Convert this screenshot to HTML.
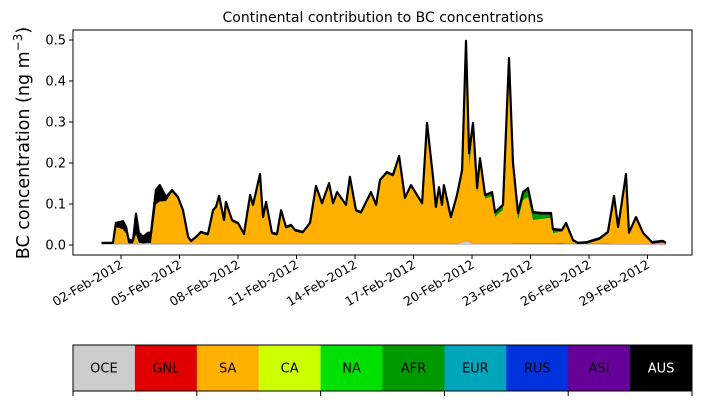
<!DOCTYPE html>
<html><head><meta charset="utf-8"><style>
body{margin:0;background:#fff;font-family:"Liberation Sans","DejaVu Sans",sans-serif}
svg text{font-family:"DejaVu Sans","Liberation Sans",sans-serif}
</style></head><body>
<svg id="c" width="703" height="402" viewBox="0 0 703 402">
<text x="383" y="22" font-size="14" text-anchor="middle">Continental contribution to BC concentrations</text>
<text transform="translate(29,143) rotate(-90)" font-size="17.5" text-anchor="middle">BC concentration (ng m<tspan dy="-7" font-size="12">−3</tspan><tspan dy="7">)</tspan></text>
<g id="plot"></g>
<g id="cbar"></g>
</svg>
<script>
// data: day offsets from 01-Feb-2012 and total BC concentration
const days=[0,0.59,0.74,1.10,1.26,1.41,1.62,1.77,1.92,2.13,2.38,2.54,2.79,2.99,3.31,3.62,3.92,4.18,4.44,4.59,4.85,5.10,5.46,5.72,5.87,6.03,6.28,6.38,6.69,7.0,7.31,7.62,7.77,8.13,8.28,8.44,8.74,9.0,9.21,9.46,9.72,9.92,10.33,10.69,11.0,11.31,11.67,11.87,12.08,12.54,12.74,13.05,13.31,13.82,14.08,14.28,14.64,14.95,15.26,15.56,15.87,16.18,16.44,16.69,17.0,17.15,17.31,17.46,17.56,17.92,18.23,18.49,18.69,18.85,19.05,19.26,19.41,19.67,20.03,20.18,20.59,20.9,21.1,21.36,21.62,21.87,22.13,22.64,23.05,23.15,23.62,23.82,24.18,24.44,24.9,25.56,25.97,26.28,26.49,26.9,27.05,27.41,27.77,28.23,28.79,28.95];
const total=[0.005,0.005,0.054,0.058,0.044,0.007,0.012,0.076,0.03,0.02,0.03,0.03,0.134,0.146,0.117,0.134,0.117,0.085,0.02,0.01,0.02,0.032,0.027,0.085,0.093,0.12,0.061,0.105,0.061,0.054,0.027,0.122,0.098,0.173,0.068,0.105,0.03,0.027,0.085,0.044,0.049,0.037,0.032,0.054,0.144,0.102,0.151,0.102,0.129,0.098,0.166,0.085,0.08,0.129,0.098,0.159,0.178,0.171,0.217,0.115,0.146,0.122,0.102,0.298,0.166,0.093,0.141,0.098,0.146,0.068,0.122,0.183,0.498,0.224,0.298,0.139,0.212,0.122,0.129,0.08,0.098,0.456,0.2,0.078,0.129,0.139,0.08,0.078,0.078,0.039,0.037,0.054,0.012,0.005,0.007,0.017,0.032,0.12,0.044,0.173,0.03,0.068,0.03,0.007,0.01,0.005];
// minor contributions (control points: day, value)
const oceDays=[0,18.3,18.69,19.1,28.95];
const oceVals=[0.003,0.003,0.01,0.003,0.002];
const gnlDays=[0,28.95];
const gnlVals=[0.001,0.001];
const afrDays=[0,18.4,18.69,18.85,19.05,19.5,20.9,21.87,22.64,23.05,23.6,28.95];
const afrVals=[0,0,0.02,0.03,0.015,0.004,0.01,0.018,0.01,0.008,0,0];
const ausDays=[0,0.59,0.74,1.10,1.62,1.77,1.92,2.13,2.38,2.54,2.79,2.99,3.31,3.62,4.5,28.95];
const ausVals=[0.002,0.002,0.01,0.02,0.008,0.05,0.025,0.018,0.025,0.025,0.035,0.04,0.01,0.005,0.004,0.004];
const yTicks=[0,0.1,0.2,0.3,0.4,0.5];
const xTickDays=[1,4,7,10,13,16,19,22,25,28];
const xTickLabels=["02-Feb-2012","05-Feb-2012","08-Feb-2012","11-Feb-2012","14-Feb-2012","17-Feb-2012","20-Feb-2012","23-Feb-2012","26-Feb-2012","29-Feb-2012"];
const regions=["OCE","GNL","SA","CA","NA","AFR","EUR","RUS","ASI","AUS"];
const regionColors=["#cccccc","#e00000","#ffb000","#ccff00","#00e000","#009900","#00a5bb","#0033dd","#660099","#000000"];

const NS="http://www.w3.org/2000/svg";
const X0=73,X1=692,Y0=30,Y1=255;
const xs=d=>101.5+d*19.5;
const ys=v=>245-v*410;
function interp(ds,vs,d){for(let i=0;i<ds.length-1;i++){if(d<=ds[i+1]){const t=(d-ds[i])/(ds[i+1]-ds[i]);return vs[i]+t*(vs[i+1]-vs[i]);}}return vs[vs.length-1];}
function mk(tag,attrs,parent){const e=document.createElementNS(NS,tag);for(const k in attrs)e.setAttribute(k,attrs[k]);parent.appendChild(e);return e;}
const plot=document.getElementById('plot');
const oce=days.map(d=>interp(oceDays,oceVals,d));
const gnl=days.map(d=>interp(gnlDays,gnlVals,d));
const afr=days.map(d=>interp(afrDays,afrVals,d));
const aus=days.map(d=>interp(ausDays,ausVals,d));
const sa=total.map((t,i)=>Math.max(0,t-oce[i]-gnl[i]-afr[i]-aus[i]));
const layers=[["oce",oce,regionColors[0]],["gnl",gnl,regionColors[1]],["sa",sa,regionColors[2]],["afr",afr,regionColors[5]],["aus",aus,regionColors[9]]];
let base=days.map(()=>0);
layers.forEach(([nm,vals,col])=>{
  const top=base.map((b,i)=>b+vals[i]);
  let p="M"+days.map((d,i)=>xs(d).toFixed(1)+","+ys(top[i]).toFixed(1)).join("L");
  for(let i=days.length-1;i>=0;i--)p+="L"+xs(days[i]).toFixed(1)+","+ys(base[i]).toFixed(1);
  const e=mk('path',{d:p+"Z",fill:col,stroke:'none'},plot);
  
  
  base=top;
});
const ln=mk('path',{d:"M"+days.map((d,i)=>xs(d).toFixed(1)+","+ys(total[i]).toFixed(1)).join("L"),fill:'none',stroke:'#000','stroke-width':2.2,'stroke-linejoin':'round'},plot);


const fr=mk('rect',{x:X0,y:Y0,width:X1-X0,height:Y1-Y0,fill:'none',stroke:'#000','stroke-width':1},plot);


yTicks.forEach(v=>{
  mk('line',{x1:X0-4,x2:X0,y1:ys(v),y2:ys(v),stroke:'#000'},plot);
  const t=mk('text',{x:X0-7,y:ys(v)+4.5,'font-size':13,'text-anchor':'end'},plot);
  t.textContent=v.toFixed(1);
  
  
});
xTickDays.forEach((d,i)=>{
  const x=xs(d);
  mk('line',{x1:x,x2:x,y1:Y1,y2:Y1+4,stroke:'#000'},plot);
  const t=mk('text',{transform:`translate(${x+3},${Y1+12}) rotate(-30)`,'font-size':12.5,'text-anchor':'end'},plot);
  t.textContent=xTickLabels[i];
  
  
});
const cb=document.getElementById('cbar');
const CX0=73,CX1=692,CY0=345,CY1=391,w=(CX1-CX0)/regions.length;
regions.forEach((r,i)=>{
  const rc=mk('rect',{x:CX0+i*w,y:CY0,width:w+0.5,height:CY1-CY0,fill:regionColors[i]},cb);
  
  
  const t=mk('text',{x:CX0+(i+0.5)*w,y:(CY0+CY1)/2+4.5,'font-size':13,'text-anchor':'middle',fill:r==="AUS"?"#fff":"#000"},cb);
  t.textContent=r;
  
  
});
mk('rect',{x:CX0,y:CY0,width:CX1-CX0,height:CY1-CY0,fill:'none',stroke:'#000'},cb);
for(let i=0;i<=regions.length;i+=2){const x=CX0+i*w;mk('line',{x1:x,x2:x,y1:CY1,y2:CY1+5,stroke:'#000'},cb);}
</script>
</body></html>
